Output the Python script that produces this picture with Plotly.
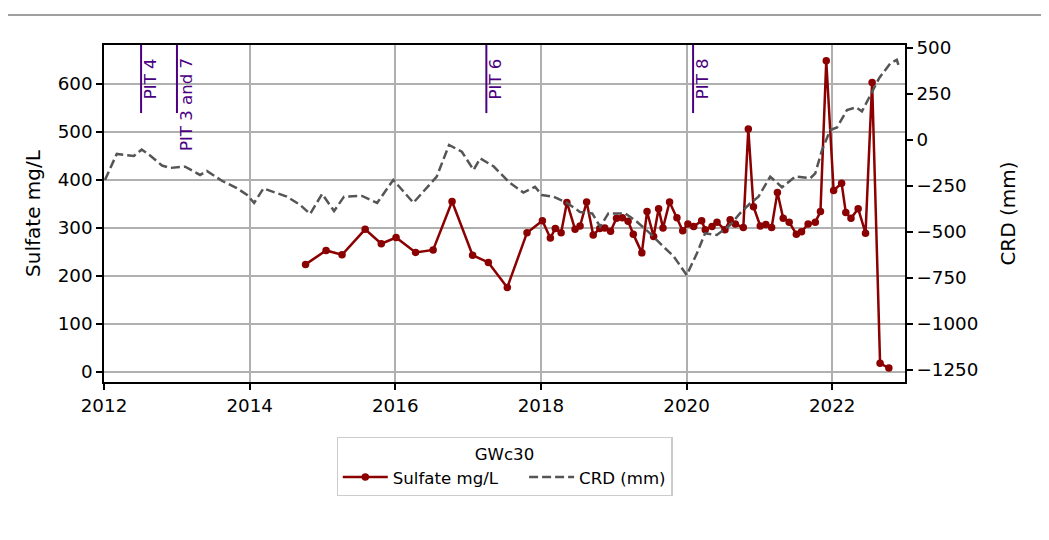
import plotly.graph_objects as go

# ---------------- data ----------------
sulfate_dates = [
    "2014-10-08", "2015-01-19", "2015-04-09", "2015-08-03", "2015-10-23",
    "2016-01-05", "2016-04-12", "2016-07-09", "2016-10-12", "2017-01-23",
    "2017-04-12", "2017-07-16", "2017-10-23", "2018-01-08", "2018-02-17",
    "2018-03-14", "2018-04-12", "2018-05-11", "2018-06-21", "2018-07-16",
    "2018-08-18", "2018-09-20", "2018-10-23", "2018-11-17", "2018-12-16",
    "2019-01-15", "2019-02-13", "2019-03-14", "2019-04-09", "2019-05-22",
    "2019-06-17", "2019-07-20", "2019-08-14", "2019-09-05", "2019-10-08",
    "2019-11-14", "2019-12-13", "2020-01-08", "2020-02-06", "2020-03-17",
    "2020-04-04", "2020-05-08", "2020-06-02", "2020-07-12", "2020-08-07",
    "2020-09-02", "2020-10-12", "2020-11-06", "2020-12-02", "2021-01-05",
    "2021-02-02", "2021-03-03", "2021-04-01", "2021-04-30", "2021-05-30",
    "2021-07-05", "2021-07-31", "2021-09-02", "2021-10-08", "2021-11-03",
    "2021-12-02", "2022-01-08", "2022-02-17", "2022-03-10", "2022-04-05",
    "2022-05-11", "2022-06-17", "2022-07-20", "2022-08-29", "2022-10-12",
]
sulfate_values = [
    224, 253, 244, 297, 267,
    280, 249, 254, 355, 243,
    228, 176, 290, 315, 279,
    299, 290, 353, 297, 304,
    354, 285, 299, 300, 293,
    320, 321, 314, 287, 248,
    334, 282, 340, 300, 354,
    321, 294, 308, 303, 315,
    296, 303, 312, 296, 317,
    308, 301, 506, 344, 304,
    307, 301, 374, 320, 312,
    287, 292, 308, 312, 334,
    648, 378, 393, 332, 320,
    340, 289, 603, 18, 8,
]

crd_dates = [
    "2012-01-06", "2012-03-05", "2012-05-30", "2012-07-08", "2012-08-19",
    "2012-10-18", "2012-11-27", "2013-02-11", "2013-04-27", "2013-05-31",
    "2013-08-16", "2013-10-28", "2013-12-19", "2014-01-23", "2014-03-11",
    "2014-07-06", "2014-09-11", "2014-10-31", "2014-12-30", "2015-02-28",
    "2015-04-19", "2015-07-18", "2015-10-02", "2015-12-22", "2016-04-01",
    "2016-07-27", "2016-09-27", "2016-11-30", "2017-01-28", "2017-03-02",
    "2017-05-08", "2017-07-31", "2017-10-05", "2017-12-02", "2018-01-05",
    "2018-03-04", "2018-05-11", "2018-07-16", "2018-09-15", "2018-10-25",
    "2018-12-05", "2019-02-27", "2019-04-27", "2019-07-02", "2019-09-07",
    "2019-10-27", "2020-01-02", "2020-02-23", "2020-04-03", "2020-06-01",
    "2020-08-07", "2020-09-26", "2020-11-16", "2020-12-27", "2021-02-24",
    "2021-04-24", "2021-06-30", "2021-09-13", "2021-10-08", "2021-11-11",
    "2021-12-22", "2022-01-25", "2022-03-16", "2022-05-01", "2022-05-30",
    "2022-07-19", "2022-08-25", "2022-10-19", "2022-11-21", "2022-11-29",
]
crd_values = [
    -217, -76, -87, -52, -84,
    -139, -152, -145, -190, -168,
    -223, -261, -299, -342, -263,
    -308, -353, -402, -293, -386,
    -308, -304, -342, -217, -341,
    -199, -27, -64, -163, -100,
    -143, -235, -286, -254, -299,
    -308, -342, -391, -399, -471,
    -399, -399, -444, -507, -580,
    -630, -734, -614, -507, -516,
    -462, -398, -344, -308, -199,
    -257, -199, -208, -181, -54,
    54, 68, 163, 177, 155,
    261, 337, 416, 435, 408,
]

pit_dates = ["2012-07-05", "2013-01-01", "2017-04-02", "2020-02-03"]
pit_labels = ["PIT 4", "PIT 3 and 7", "PIT 6", "PIT 8"]

x_tick_years = ["2012", "2014", "2016", "2018", "2020", "2022"]
left_ticks = [0, 100, 200, 300, 400, 500, 600]
right_ticks = [-1250, -1000, -750, -500, -250, 0, 250, 500]

legend_title = "GWc30"
series_names = ["Sulfate mg/L", "CRD (mm)"]

# ---------------- figure ----------------
FONT = "DejaVu Sans"
FS_TEXT = 16.6
FS_TICK = 18.3
FS_TITLE = 20
PURPLE = "#4B0082"
NBSP = "\u00a0"

fig = go.Figure()
fig.add_trace(go.Scatter(
    x=sulfate_dates, y=sulfate_values, name=series_names[0] + NBSP * 4,
    mode="lines+markers",
    line=dict(color="#8B0000", width=2.5),
    marker=dict(color="#8B0000", size=7.5),
    yaxis="y",
))
fig.add_trace(go.Scatter(
    x=crd_dates, y=crd_values, name=series_names[1],
    mode="lines",
    line=dict(color="#555555", width=2.5, dash="9px,4px"),
    yaxis="y2",
))

shapes = []
annotations = []
for d, lab in zip(pit_dates, pit_labels):
    shapes.append(dict(type="line", xref="x", yref="paper", x0=d, x1=d,
                       y0=0.798, y1=1.0, line=dict(color=PURPLE, width=2)))
    annotations.append(dict(x=d, y=0.967, xref="x", yref="paper", text=lab,
                            textangle=-90, showarrow=False, xanchor="left",
                            yanchor="top", xshift=-2,
                            font=dict(family=FONT, size=FS_TEXT, color=PURPLE)))

# outer figure frame
shapes.append(dict(type="rect", xref="paper", yref="paper",
                   x0=-0.14, x1=1.176, y0=-0.49, y1=1.089,
                   line=dict(color="#808080", width=1.3), layer="below"))

axis_common = dict(
    showline=True, linecolor="black", linewidth=1.6,
    ticks="outside", ticklen=6, tickwidth=1.5, tickcolor="black",
    tickfont=dict(family=FONT, size=FS_TICK, color="black"),
    zeroline=False,
)

fig.update_layout(
    width=1041, height=532,
    margin=dict(l=96, r=144, t=37, b=158),
    paper_bgcolor="white", plot_bgcolor="white",
    font=dict(family=FONT, size=FS_TEXT, color="black"),
    xaxis=dict(
        type="date", range=["2012-01-01", "2023-01-01"],
        tickvals=[y + "-01-01" for y in x_tick_years], ticktext=x_tick_years,
        showgrid=True, gridcolor="#b0b0b0", gridwidth=1.5,
        mirror=True, **axis_common,
    ),
    yaxis=dict(
        range=[-21, 681], tickvals=left_ticks,
        showgrid=True, gridcolor="#b0b0b0", gridwidth=1.5,
        title=dict(text="Sulfate mg/L", font=dict(family=FONT, size=FS_TITLE), standoff=12),
        mirror=True, **axis_common,
    ),
    yaxis2=dict(
        range=[-1315, 516], tickvals=right_ticks,
        overlaying="y", side="right", showgrid=False,
        title=dict(text="CRD (mm)", font=dict(family=FONT, size=FS_TITLE), standoff=24),
        **axis_common,
    ),
    legend=dict(
        orientation="h", x=0.5, xanchor="center", y=-0.163, yanchor="top",
        bgcolor="white", bordercolor="#cccccc", borderwidth=1.3,
        title=dict(text=legend_title, side="top center",
                   font=dict(family=FONT, size=FS_TEXT)),
        font=dict(family=FONT, size=FS_TEXT),
        itemwidth=45,
    ),
    shapes=shapes,
    annotations=annotations,
    showlegend=True,
)

fig.write_html("out.html")
